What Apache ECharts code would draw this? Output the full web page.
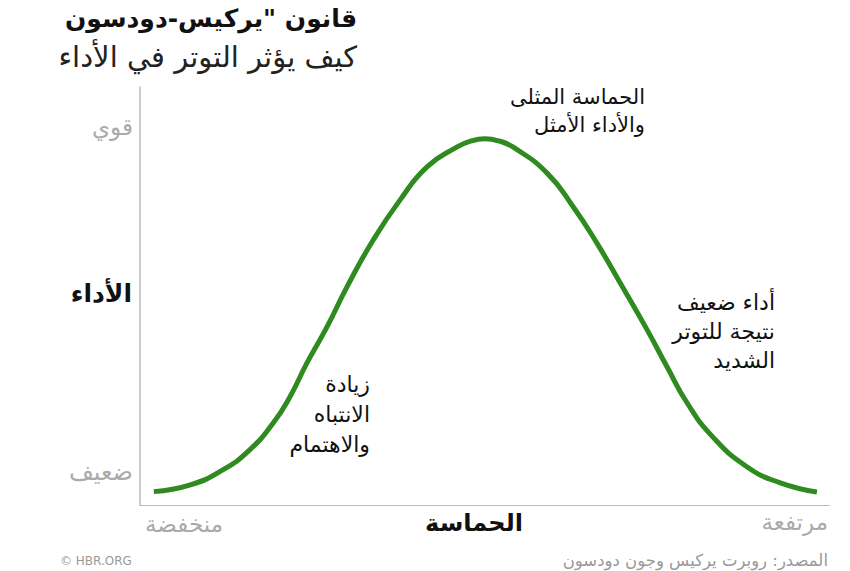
<!DOCTYPE html>
<html><head><meta charset="utf-8">
<script src="https://cdn.jsdelivr.net/npm/echarts@6/dist/echarts.min.js"></script>
<style>html,body{margin:0;padding:0;background:#fff}#c{width:850px;height:571px}</style>
</head><body><div id="c"></div>
<script>
const arousal = [2.0, 7.3, 12.0, 15.9, 19.3, 21.7, 24.2, 27.1, 30.0, 33.8, 37.7, 41.6, 45.9, 48.0, 50.0, 52.0, 54.1, 59.0, 62.8, 66.2, 69.6, 73.5, 76.4, 79.3, 83.0, 88.0, 92.8, 98.1];
const performance = [3.2, 4.8, 8.4, 13.2, 19.6, 25.8, 34.0, 42.6, 52.2, 63.4, 73.0, 80.9, 85.6, 87.1, 87.6, 87.1, 85.6, 79.4, 71.3, 62.7, 53.1, 41.9, 33.0, 24.4, 16.3, 9.1, 5.3, 3.1];
const yTickLabels = ['قوي', 'ضعيف'];
const xTickLabels = ['منخفضة', 'مرتفعة'];
const titleText = 'قانون "يركيس-دودسون';
const subtitleText = 'كيف يؤثر التوتر في الأداء';
const yName = 'الأداء';
const xName = 'الحماسة';
const notes = ['الحماسة المثلى\nوالأداء الأمثل', 'زيادة\nالانتباه\nوالاهتمام', 'أداء ضعيف\nنتيجة للتوتر\nالشديد'];
const footLeft = '© HBR.ORG';
const footRight = 'المصدر: روبرت يركيس وجون دودسون';

const F = '"DejaVu Sans", "Noto Sans", sans-serif';
const chart = echarts.init(document.getElementById('c'), null, {renderer: 'svg'});
const data = arousal.map((x, i) => [x, performance[i]]);
function t(x, y, text, size, color, weight, align, lh) {
  return {type: 'text', x: x, y: y, style: {text: text, font: (weight || 'normal') + ' ' + size + 'px ' + F, fill: color, align: align || 'right', verticalAlign: 'middle', lineHeight: lh || size * 1.5}};
}
chart.setOption({
  animation: false,
  grid: {left: 140, right: 20, top: 87, bottom: 66},
  xAxis: {type: 'value', min: 0, max: 100, axisLine: {show: true, lineStyle: {color: '#aaa', type: 'dotted', width: 1}}, axisTick: {show: false}, axisLabel: {show: false}, splitLine: {show: false}},
  yAxis: {type: 'value', min: 0, max: 100, axisLine: {show: true, lineStyle: {color: '#bbb', width: 1.5}}, axisTick: {show: false}, axisLabel: {show: false}, splitLine: {show: false}},
  series: [{type: 'line', data: data, smooth: 0.5, symbol: 'none', lineStyle: {color: '#2f8a1f', width: 5, cap: 'butt', join: 'round'}}],
  graphic: [
    t(357, 18, titleText, 25, '#111', 'bold'),
    t(357, 57, subtitleText, 29, '#222'),
    t(133, 127, yTickLabels[0], 23, '#aaa'),
    t(133, 472, yTickLabels[1], 24, '#aaa'),
    t(132, 293, yName, 25, '#111', 'bold'),
    t(145, 524, xTickLabels[0], 23, '#aaa', 'normal', 'left'),
    t(828, 522, xTickLabels[1], 23, '#aaa'),
    t(474, 523, xName, 24, '#111', 'bold', 'center'),
    t(60, 561, footLeft, 12, '#999', 'normal', 'left'),
    t(828, 560, footRight, 16.5, '#999'),
    t(645, 111, notes[0], 21, '#111', 'normal', 'right', 28),
    t(370, 414, notes[1], 22, '#111', 'normal', 'right', 30),
    t(775, 331, notes[2], 22, '#111', 'normal', 'right', 29)
  ]
});
</script></body></html>
